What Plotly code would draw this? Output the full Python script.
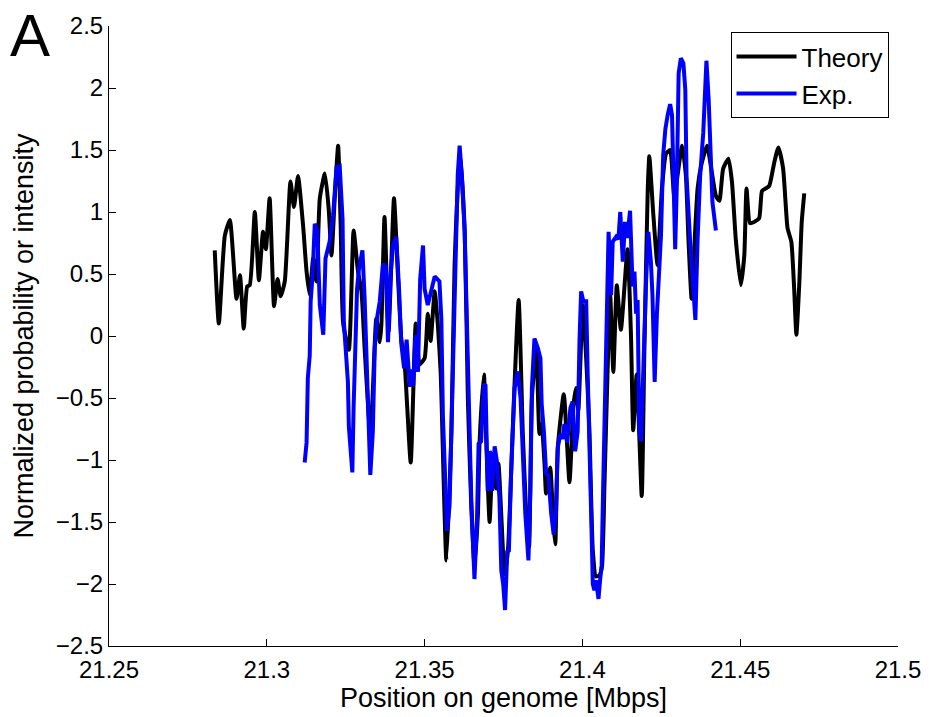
import plotly.graph_objects as go

theory_x = [21.2835,21.2848,21.2867,21.2883,21.2904,21.2915,21.2927,21.2938,21.2946,21.2962,
21.2975,21.2988,21.2997,21.3009,21.3023,21.3034,21.3044,21.3057,21.3075,21.3086,
21.3099,21.3115,21.3126,21.3136,21.3147,21.3157,21.3168,21.3184,21.3196,21.3205,
21.3215,21.3226,21.3234,21.3242,21.3260,21.3275,21.3289,21.3300,21.3310,21.3328,
21.3335,21.3347,21.3358,21.3363,21.3373,21.3386,21.3403,21.3416,21.3426,21.3437,
21.3456,21.3472,21.3484,21.3500,21.3510,21.3519,21.3532,21.3542,21.3551,21.3569,
21.3585,21.3595,21.3612,21.3627,21.3637,21.3648,21.3658,21.3669,21.3674,21.3688,
21.3696,21.3706,21.3716,21.3727,21.3734,21.3744,21.3753,21.3764,21.3779,21.3798,
21.3811,21.3822,21.3831,21.3840,21.3854,21.3864,21.3871,21.3880,21.3885,21.3898,
21.3908,21.3914,21.3922,21.3941,21.3959,21.3972,21.3980,21.3987,21.4001,21.4012,
21.4022,21.4033,21.4043,21.4054,21.4062,21.4070,21.4080,21.4088,21.4098,21.4109,
21.4122,21.4143,21.4154,21.4161,21.4172,21.4188,21.4196,21.4207,21.4212,21.4225,
21.4238,21.4252,21.4265,21.4278,21.4291,21.4316,21.4328,21.4336,21.4346,21.4354,
21.4365,21.4376,21.4395,21.4407,21.4423,21.4434,21.4446,21.4463,21.4474,21.4486,
21.4502,21.4513,21.4520,21.4531,21.4544,21.4560,21.4569,21.4581,21.4592,21.4608,
21.4621,21.4636,21.4650,21.4662,21.4671,21.4678,21.4687,21.4695,21.4703]

theory_y = [0.69,0.10,0.81,0.935,0.30,0.49,0.06,0.40,0.41,1.00,
0.45,0.84,0.70,1.11,0.24,0.46,0.32,0.44,1.245,1.04,
1.29,0.89,0.52,0.33,0.625,0.44,1.11,1.31,1.03,0.65,
1.10,1.535,0.90,0.10,-0.11,0.85,0.52,0.36,-0.10,-0.80,
-0.50,0.14,-0.05,0.09,0.96,0.04,1.11,0.46,-0.02,-0.23,
-1.02,0.10,-0.23,-0.18,0.18,-0.04,0.36,0.09,-0.30,-1.81,
-0.77,0.57,1.48,0.85,-0.50,-1.38,-1.85,-1.43,-0.87,-0.31,
-0.90,-1.50,-0.98,-1.23,-1.03,-1.50,-1.92,-1.73,-0.77,0.29,
-0.77,-1.43,-1.70,-0.50,-0.10,-0.79,-0.71,-1.03,-1.27,-1.06,
-1.51,-1.68,-0.90,-0.47,-1.18,-0.55,-0.42,-0.60,0.25,-0.18,
-0.74,-1.73,-1.94,-1.93,-1.86,-1.19,-0.26,0.33,-0.29,0.41,
0.05,0.70,0.00,-0.76,-0.31,-1.29,-0.16,1.18,1.45,0.97,
0.57,1.19,1.47,1.50,1.13,1.535,1.29,0.78,0.30,0.68,
1.19,1.37,1.535,1.37,1.13,1.09,1.35,1.43,1.24,0.78,
0.41,0.65,1.19,0.91,0.92,0.95,1.17,1.19,1.21,1.40,
1.52,1.35,0.87,0.76,0.38,0.01,0.41,0.92,1.15]

exp_x = [21.3120,21.3126,21.3130,21.3136,21.3139,21.3145,21.3152,21.3160,21.3168,21.3179,
21.3186,21.3199,21.3210,21.3221,21.3231,21.3240,21.3244,21.3252,21.3257,21.3260,
21.3271,21.3275,21.3282,21.3286,21.3292,21.3303,21.3310,21.3317,21.3324,21.3328,
21.3336,21.3342,21.3349,21.3358,21.3368,21.3377,21.3384,21.3392,21.3400,21.3410,
21.3419,21.3426,21.3435,21.3443,21.3453,21.3457,21.3464,21.3471,21.3479,21.3486,
21.3495,21.3500,21.3510,21.3518,21.3532,21.3547,21.3553,21.3558,21.3565,21.3571,
21.3579,21.3588,21.3595,21.3605,21.3611,21.3618,21.3627,21.3635,21.3642,21.3648,
21.3658,21.3666,21.3671,21.3679,21.3688,21.3693,21.3700,21.3706,21.3710,21.3714,
21.3722,21.3729,21.3737,21.3743,21.3749,21.3755,21.3762,21.3767,21.3774,21.3779,
21.3785,21.3795,21.3804,21.3811,21.3819,21.3829,21.3835,21.3840,21.3848,21.3859,
21.3867,21.3871,21.3878,21.3885,21.3892,21.3901,21.3909,21.3916,21.3922,21.3930,
21.3937,21.3943,21.3952,21.3962,21.3969,21.3977,21.3985,21.3991,21.3996,21.4003,
21.4012,21.4017,21.4022,21.4028,21.4033,21.4038,21.4043,21.4051,21.4056,21.4061,
21.4066,21.4073,21.4078,21.4083,21.4091,21.4096,21.4107,21.4114,21.4120,21.4128,
21.4135,21.4142,21.4151,21.4159,21.4165,21.4170,21.4175,21.4180,21.4186,21.4193,
21.4202,21.4209,21.4217,21.4222,21.4229,21.4236,21.4249,21.4256,21.4263,21.4270,
21.4278,21.4284,21.4291,21.4294,21.4299,21.4305,21.4312,21.4320,21.4326,21.4330,
21.4341,21.4349,21.4358,21.4365,21.4373,21.4383,21.4389,21.4393,21.4400,21.4407,
21.4412,21.4423]

exp_y = [-1.02,-0.86,-0.34,-0.16,0.28,0.49,0.905,0.85,0.25,0.01,
0.625,0.76,0.97,1.36,1.37,0.945,0.12,-0.24,-0.37,-0.73,
-1.10,-0.58,-0.04,0.38,0.54,0.69,0.30,-0.285,-0.85,-1.12,
-0.77,-0.10,0.14,0.28,0.58,0.56,-0.05,0.49,0.73,0.80,
0.38,-0.06,-0.26,-0.03,-0.41,-0.27,-0.40,0.01,-0.29,0.46,
0.73,0.38,0.25,0.34,0.48,0.44,0.14,-0.64,-1.17,-1.57,
-1.37,-0.45,0.44,1.30,1.535,1.29,0.84,0.04,-0.77,-1.33,
-1.96,-1.49,-0.87,-0.85,-0.39,-0.40,-1.25,-0.93,-0.95,-1.25,
-0.89,-1.01,-1.30,-1.89,-2.00,-2.21,-1.73,-1.74,-1.11,-0.85,
-0.42,-0.285,-0.50,-0.93,-1.43,-1.81,-1.25,-0.42,-0.02,-0.10,
-0.18,-0.55,-0.77,-1.11,-1.12,-1.43,-1.60,-1.45,-0.90,-0.79,
-0.83,-0.71,-0.86,-0.58,-0.53,-0.93,-0.77,-0.02,0.36,0.28,
0.28,-0.34,-0.77,-1.46,-2.00,-2.05,-1.97,-2.12,-1.97,-1.85,
-1.19,-0.45,0.41,0.84,0.33,0.76,0.80,0.78,1.00,0.60,
0.92,0.79,1.01,0.40,0.52,0.18,0.29,-0.76,-0.85,-0.22,
0.46,0.84,0.60,0.33,-0.37,0.17,0.81,1.46,1.67,1.78,
1.87,1.78,1.13,0.70,1.20,2.12,2.24,2.20,1.99,1.29,
0.78,0.44,0.13,0.78,1.29,1.64,1.91,2.22,1.91,1.46,
1.08,0.85]

x_ticks = [21.25, 21.3, 21.35, 21.4, 21.45, 21.5]
x_tick_labels = ["21.25", "21.3", "21.35", "21.4", "21.45", "21.5"]
y_ticks = [-2.5, -2, -1.5, -1, -0.5, 0, 0.5, 1, 1.5, 2, 2.5]
y_tick_labels = ["\u22122.5", "\u22122", "\u22121.5", "\u22121", "\u22120.5", "0", "0.5", "1", "1.5", "2", "2.5"]

FONT = "Liberation Sans, Arial, Helvetica, sans-serif"

fig = go.Figure()
fig.add_trace(go.Scatter(x=theory_x, y=theory_y, mode="lines", name="Theory",
                         line=dict(color="black", width=4, shape="spline", smoothing=0.5)))
fig.add_trace(go.Scatter(x=exp_x, y=exp_y, mode="lines", name="Exp.",
                         line=dict(color="#0000ff", width=4)))

fig.update_layout(
    width=933, height=717,
    margin=dict(l=109, r=34, t=23, b=71),
    paper_bgcolor="white", plot_bgcolor="white",
    font=dict(family=FONT, size=24, color="black"),
    showlegend=True,
    legend=dict(x=0.988, y=0.99, xanchor="right", yanchor="top",
                bordercolor="black", borderwidth=1, bgcolor="white",
                font=dict(size=26, family=FONT), tracegroupgap=0,
                itemwidth=60),
    xaxis=dict(range=[21.25, 21.5], tickmode="array", tickvals=x_ticks, ticktext=x_tick_labels,
               ticks="inside", ticklen=7, tickcolor="black", showline=True, linecolor="black",
               linewidth=1, showgrid=False, zeroline=False, mirror=False,
               tickfont=dict(size=24, family=FONT), ticklabelstandoff=2,
               title=dict(text="Position on genome [Mbps]", font=dict(size=27, family=FONT), standoff=0)),
    yaxis=dict(range=[-2.5, 2.5], tickmode="array", tickvals=y_ticks, ticktext=y_tick_labels,
               ticks="inside", ticklen=7, tickcolor="black", showline=True, linecolor="black",
               linewidth=1, showgrid=False, zeroline=False, mirror=False,
               tickfont=dict(size=24, family=FONT),
               title=dict(text="Normalized probability or intensity", font=dict(size=27, family=FONT), standoff=14)),
)

fig.add_annotation(text="A", xref="paper", yref="paper", x=-0.128, y=1.042,
                   xanchor="left", yanchor="top", showarrow=False,
                   font=dict(size=60, family=FONT, color="black"))

fig.write_html("out.html")
